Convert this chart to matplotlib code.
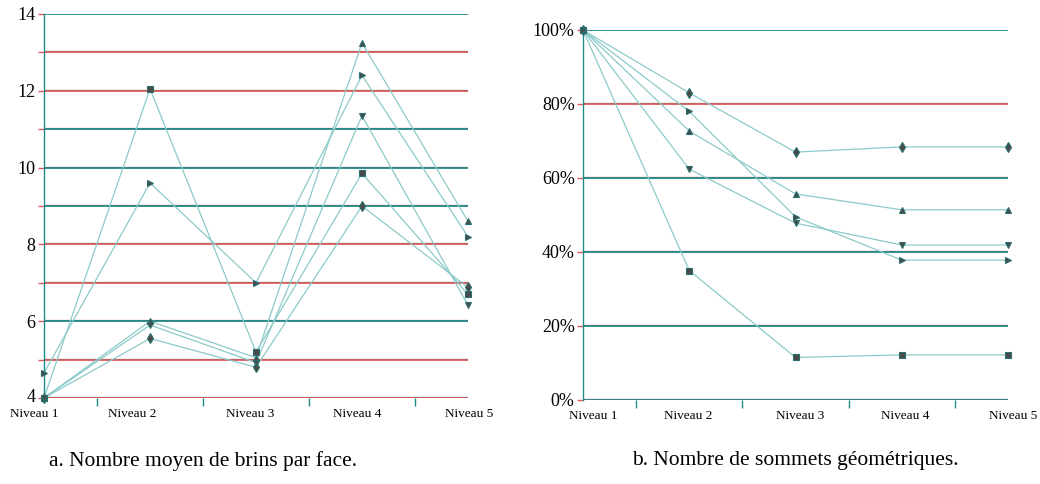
import matplotlib
matplotlib.use("Agg")
import matplotlib.pyplot as plt
from matplotlib.transforms import offset_copy, ScaledTranslation
from matplotlib.ticker import FuncFormatter

plt.rcParams['font.family'] = ['Liberation Serif', 'DejaVu Serif']

niveaux = ["Niveau 1", "Niveau 2", "Niveau 3", "Niveau 4", "Niveau 5"]
markers = ["d", "s", "^", "v", ">"]

# a. Nombre moyen de brins par face
brins_losange = [4.0, 5.55, 4.8, 9.0, 6.88]
brins_carre = [4.0, 12.05, 5.2, 9.85, 6.7]
brins_tri_haut = [4.0, 6.0, 5.05, 13.25, 8.6]
brins_tri_bas = [4.0, 5.9, 4.92, 11.35, 6.42]
brins_tri_droite = [4.65, 9.6, 7.0, 12.4, 8.2]

# b. Nombre de sommets géométriques (%)
sommets_losange = [100, 83, 67, 68.4, 68.4]
sommets_carre = [100, 35, 11.5, 12.2, 12.2]
sommets_tri_haut = [100, 72.7, 55.7, 51.4, 51.4]
sommets_tri_bas = [100, 62.4, 47.8, 41.9, 41.9]
sommets_tri_droite = [100, 78, 49.5, 37.8, 37.8]

brins = [brins_losange, brins_carre, brins_tri_haut, brins_tri_bas, brins_tri_droite]
sommets = [sommets_losange, sommets_carre, sommets_tri_haut, sommets_tri_bas, sommets_tri_droite]

TEAL = "#1f8a8a"
RED = "#e05a5a"
LINE = "#8ccaca"
MFACE = "#4a4a4a"
MEDGE = "#2a6e6e"

fig = plt.figure(figsize=(10.4, 4.84), dpi=100)
ax1 = fig.add_axes([44 / 1040, 1 - 398 / 484, 424 / 1040, 384 / 484])
ax2 = fig.add_axes([583 / 1040, 1 - 400 / 484, 425 / 1040, 370 / 484])


def grid(ax, levels, colors):
    up = offset_copy(ax.transData, fig=fig, y=1, units='dots')
    for lv, c in zip(levels, colors):
        other = RED if c == TEAL else TEAL
        ax.plot([0, 4], [lv, lv], color=other, lw=0.9, transform=up, zorder=1,
                solid_capstyle='butt')
        ax.plot([0, 4], [lv, lv], color=c, lw=1.3, zorder=1, solid_capstyle='butt')


def style(ax, ylo, yhi, yticks, fmt, shifts):
    ax.set_xlim(0, 4)
    ax.set_ylim(ylo, yhi)
    for s in ["top", "right"]:
        ax.spines[s].set_visible(False)
    ax.spines["left"].set_color(TEAL)
    ax.spines["left"].set_linewidth(1.0)
    ax.spines["bottom"].set_visible(False)
    ax.set_xticks(range(5))
    ax.set_xticklabels(niveaux, fontsize=9.5)
    ax.set_xticks([0.5, 1.5, 2.5, 3.5], minor=True)
    ax.tick_params(axis='x', which='major', length=0, pad=7)
    ax.tick_params(axis='x', which='minor', length=6, color=TEAL, width=1)
    for lab, dx in zip(ax.get_xticklabels(), shifts):
        lab.set_transform(lab.get_transform() + ScaledTranslation(dx / 100, 0, fig.dpi_scale_trans))
    ax.set_yticks(yticks)
    ax.yaxis.set_major_formatter(FuncFormatter(fmt))
    ax.tick_params(axis='y', length=4, color=RED, width=1, labelsize=13, pad=2)
    ax.patch.set_visible(False)


def series(ax, data):
    for vals, m in zip(data, markers):
        ax.plot(range(5), vals, color=LINE, lw=0.9, zorder=2)
        ax.plot(range(5), vals, linestyle='none', marker=m, markersize=5,
                markerfacecolor=MFACE, markeredgecolor=MEDGE, markeredgewidth=0.8,
                zorder=3, clip_on=False)


# left panel
lv1 = list(range(4, 15))
col1 = [RED, RED, TEAL, RED, RED, TEAL, TEAL, TEAL, RED, RED, TEAL]
grid(ax1, lv1, col1)
series(ax1, brins)
style(ax1, 4, 14, [4, 6, 8, 10, 12, 14], lambda v, p: f"{v:.0f}",
      [-10, -18, -6, -5, 1])
ax1.set_yticks(lv1, minor=True)
ax1.tick_params(axis='y', which='minor', length=4, color=RED, width=1)
# lift the lowest value label a little so it clears the level names
low = ax1.get_yticklabels()[0]
low.set_transform(low.get_transform() + ScaledTranslation(0, 0.03, fig.dpi_scale_trans))

# right panel
lv2 = [0, 20, 40, 60, 80, 100]
col2 = [TEAL, TEAL, TEAL, TEAL, RED, TEAL]
grid(ax2, lv2, col2)
series(ax2, sommets)
style(ax2, 0, 100, lv2, lambda v, p: f"{v:.0f}%", [10, -1, 5, 3, 5])

fig.text(203 / 1040, 1 - 461 / 484, "a. Nombre moyen de brins par face.",
         ha='center', va='center', fontsize=15.5)
fig.text(795 / 1040, 1 - 461 / 484, "b. Nombre de sommets géométriques.",
         ha='center', va='center', fontsize=15.5)

fig.savefig("out.png", dpi=100)
